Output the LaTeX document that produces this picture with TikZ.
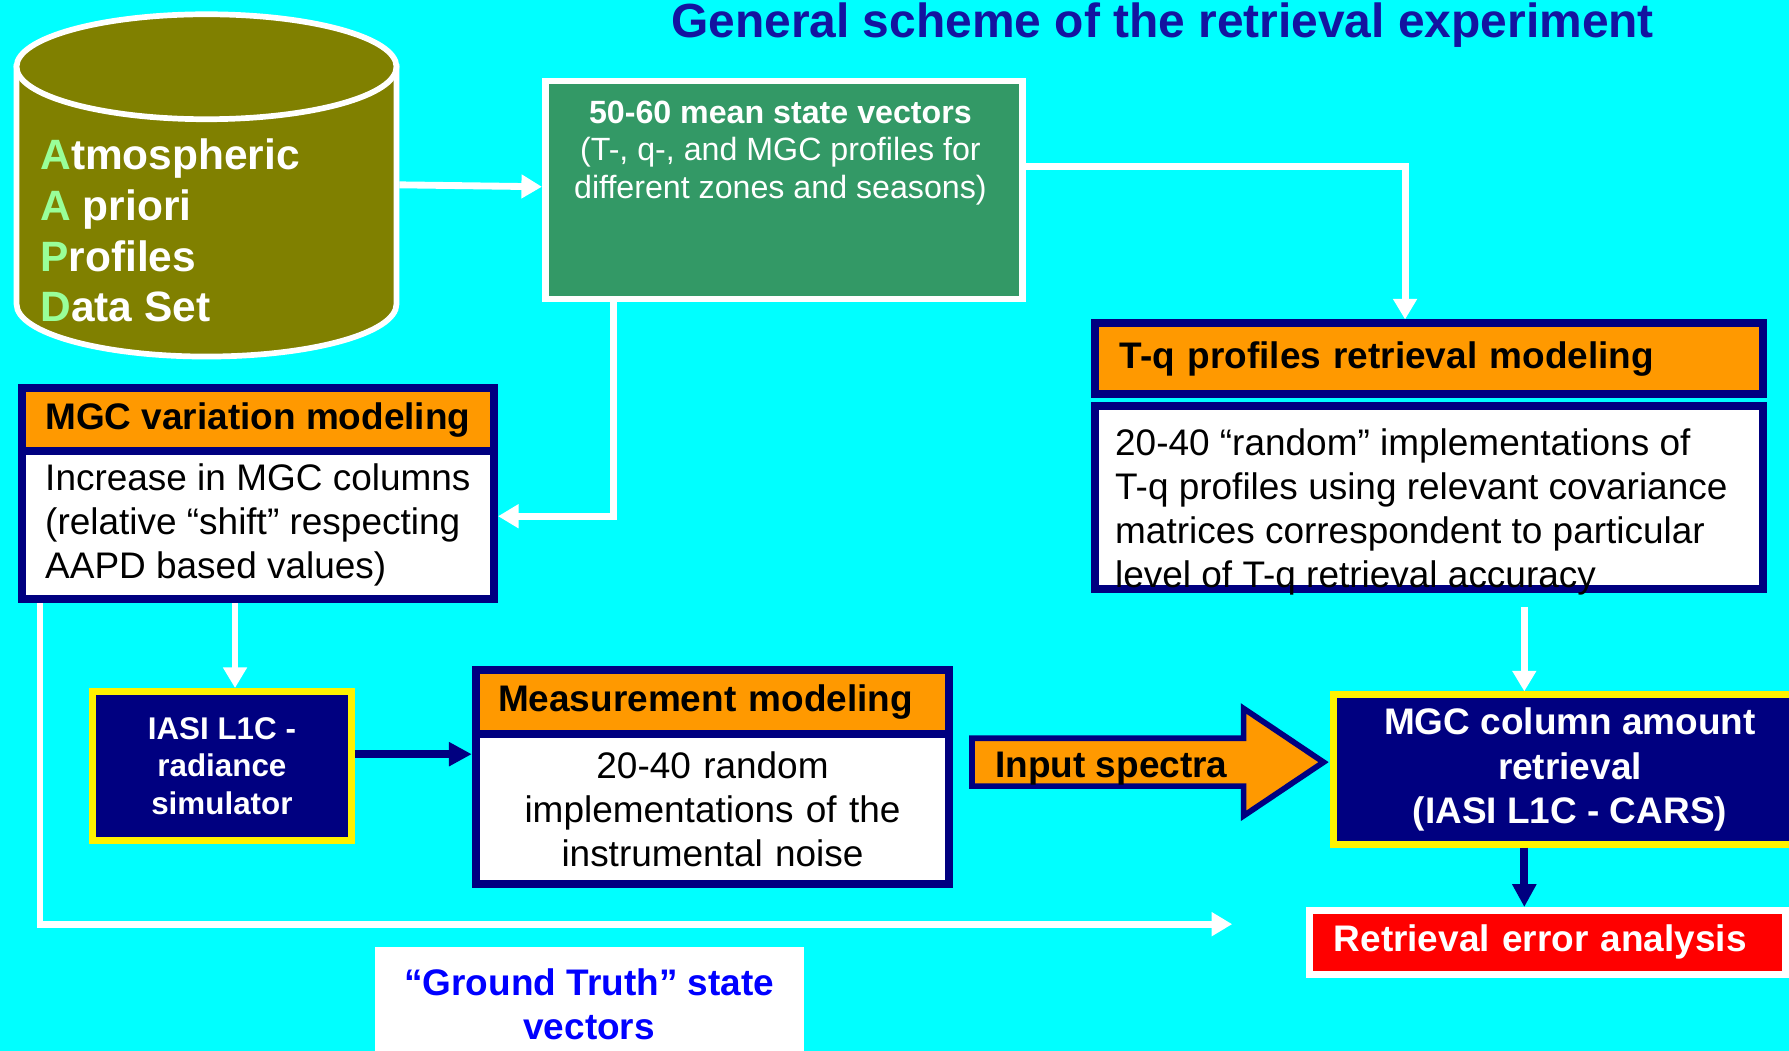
\documentclass[tikz,border=0pt]{standalone}
\usepackage{fontspec}
\setmainfont{Liberation Sans}
\usepackage{xcolor}
\usepackage{tikz}
\usetikzlibrary{arrows.meta,positioning,calc}

\definecolor{bgcyan}{RGB}{0,255,255}
\definecolor{darknavy}{RGB}{0,0,128}
\definecolor{boxorange}{RGB}{255,153,0}
\definecolor{dbolive}{RGB}{128,128,0}
\definecolor{seagreen}{RGB}{51,153,102}
\definecolor{lightgreen}{RGB}{153,255,153}
\definecolor{titleblue}{RGB}{20,20,160}
\definecolor{truthblue}{RGB}{0,0,255}

\newcommand{\ttlfont}{\fontsize{21pt}{25pt}\selectfont\bfseries}
\newcommand{\hdfont}{\fontsize{16.2pt}{19.4pt}\selectfont\bfseries}
\newcommand{\txfont}{\fontsize{16.2pt}{19.4pt}\selectfont}
\newcommand{\dbfont}{\fontsize{18.6pt}{22.2pt}\selectfont\bfseries}
\newcommand{\smfont}{\fontsize{14.1pt}{16.5pt}\selectfont}
\newcommand{\simfont}{\fontsize{13.75pt}{16.5pt}\selectfont\bfseries}

\tikzset{
  ttl/.style={anchor=base, inner sep=0, text=titleblue, font=\ttlfont},
  dbline/.style={draw=white, line width=2.5pt},
  dbtext/.style={anchor=north west, align=left, inner sep=0, text=white, font=\dbfont},
  greenbox/.style={anchor=north west, draw=white, line width=3pt, fill=seagreen, inner sep=0},
  greentext/.style={anchor=north, align=center, inner sep=0, text=white, font=\smfont},
  hdbox/.style={anchor=north west, draw=darknavy, line width=3.5pt, fill=boxorange, align=left, font=\hdfont},
  bdbox/.style={anchor=north west, draw=darknavy, line width=3.5pt, fill=white, font=\txfont},
  bdtext/.style={align=left, inner sep=0, font=\txfont},
  simbox/.style={anchor=north west, draw=yellow, line width=3pt, fill=darknavy, text=white, align=center, font=\simfont},
  errbox/.style={anchor=north west, draw=white, line width=3pt, fill=red, text=white, align=left, font=\hdfont},
  truthbox/.style={anchor=north west, fill=white, text=truthblue, align=center, font=\hdfont},
  blockarrow/.style={draw=darknavy, line width=2.5pt, fill=boxorange},
  link/.style={draw=white, line width=3pt, -{Triangle[length=9pt,width=10pt]}},
  flow/.style={draw=darknavy, line width=3.5pt, -{Triangle[length=10pt,width=10pt]}}
}

\begin{document}
\begin{tikzpicture}[x=0.5pt, y=-0.5pt]
  \useasboundingbox (0,0) rectangle (1568,921);
  \clip (0,0) rectangle (1568,921);
  \fill[bgcyan] (0,0) rectangle (1568,921);

  \node[ttl] (title) at (1019,33) {General scheme of the retrieval experiment};

  % data set cylinder
  \draw[dbline, fill=dbolive] (14.5,58.5) -- (14.5,266.5)
    arc[start angle=180, end angle=360, x radius=83.25pt, y radius=23pt] -- (347.5,58.5) -- cycle;
  \draw[dbline, fill=dbolive] (181,58.5) ellipse [x radius=83.25pt, y radius=23pt];
  \node[dbtext] (aapd) at (35,121.5) {\textcolor{lightgreen}{A}tmospheric\\\textcolor{lightgreen}{A} priori\\\textcolor{lightgreen}{P}rofiles\\\textcolor{lightgreen}{D}ata Set};
  \coordinate (dbout) at (350,162);

  \node[greenbox, minimum width=209pt, minimum height=95.5pt] (vectors) at (475,68) {};
  \node[greentext] (vectorstext) at (684,88) {\textbf{50-60 mean state vectors}\\(T-, q-, and MGC profiles for\\different zones and seasons)};

  \node[hdbox, text width=271pt, inner xsep=10.75pt, minimum height=31pt] (tqhead) at (956.5,280) {T-q profiles retrieval modeling};
  \node[bdbox, minimum width=292.5pt, minimum height=80.5pt] (tqbody) at (956.5,352) {};
  \node[bdtext, anchor=north west] (tqtext) at (977,375) {20-40 “random” implementations of\\T-q profiles using relevant covariance\\matrices correspondent to particular\\level of T-q retrieval accuracy};

  \node[hdbox, minimum width=207pt, minimum height=27.75pt] (mgchead) at (15.5,336.5) {MGC variation modeling};
  \node[bdbox, minimum width=207pt, minimum height=64.75pt, align=left] (mgcbody) at (15.5,392) {Increase in MGC columns\\(relative “shift” respecting\\AAPD based values)};

  \node[simbox, minimum width=113.5pt, minimum height=65.5pt] (iasi) at (78,603) {IASI L1C -\\radiance\\simulator};

  \node[hdbox, text width=188pt, inner xsep=9.75pt, minimum height=28.25pt] (meashead) at (413.5,583.5) {Measurement modeling};
  \node[bdbox, text width=188pt, inner xsep=9.75pt, minimum height=65.75pt, align=center] (measbody) at (413.5,640) {20-40 random\\implementations of the\\instrumental noise};

  \draw[blockarrow] (852,647) -- (1090,647) -- (1090,621) -- (1160,668) -- (1090,715) -- (1090,689) -- (852,689) -- cycle;
  \node[font=\hdfont, anchor=west, inner sep=0] (spectra) at (872,674) {Input spectra};

  \node[simbox, font=\hdfont, minimum width=207pt, minimum height=65.5pt] (mgccol) at (1166,606) {MGC column amount\\retrieval\\(IASI L1C - CARS)};

  \node[errbox, text width=187.5pt, inner xsep=10.5pt, minimum height=28pt] (reterr) at (1145,795) {Retrieval error analysis};

  \node[truthbox, minimum width=188pt, minimum height=50pt] (truth) at (328,830) {“Ground Truth” state\\vectors};
  \coordinate (gtend) at (1080,810);

  \draw[link] (dbout) -- (vectors);
  \draw[link] ([yshift=10.25pt]vectors.east) -| ([xshift=-10.5pt]tqhead.north);
  \draw[link] ([xshift=31.5pt]vectors.south west) |- ([yshift=3.9pt]mgcbody.east);
  \draw[link] ([xshift=5.75pt]iasi.north |- mgcbody.south) -- ([xshift=5.75pt]iasi.north);
  \draw[link] ([xshift=9.75pt]mgcbody.south west) |- (gtend);
  \draw[flow] ([yshift=5.25pt]iasi.east) -- ([yshift=5.25pt]iasi.east -| measbody.west);
  \draw[link, shorten <=6pt] ([xshift=-20pt]mgccol.north |- tqbody.south) -- ([xshift=-20pt]mgccol.north);
  \draw[flow] ([xshift=-20pt]mgccol.south) -- ([xshift=-20pt]mgccol.south |- reterr.north);
\end{tikzpicture}
\end{document}
